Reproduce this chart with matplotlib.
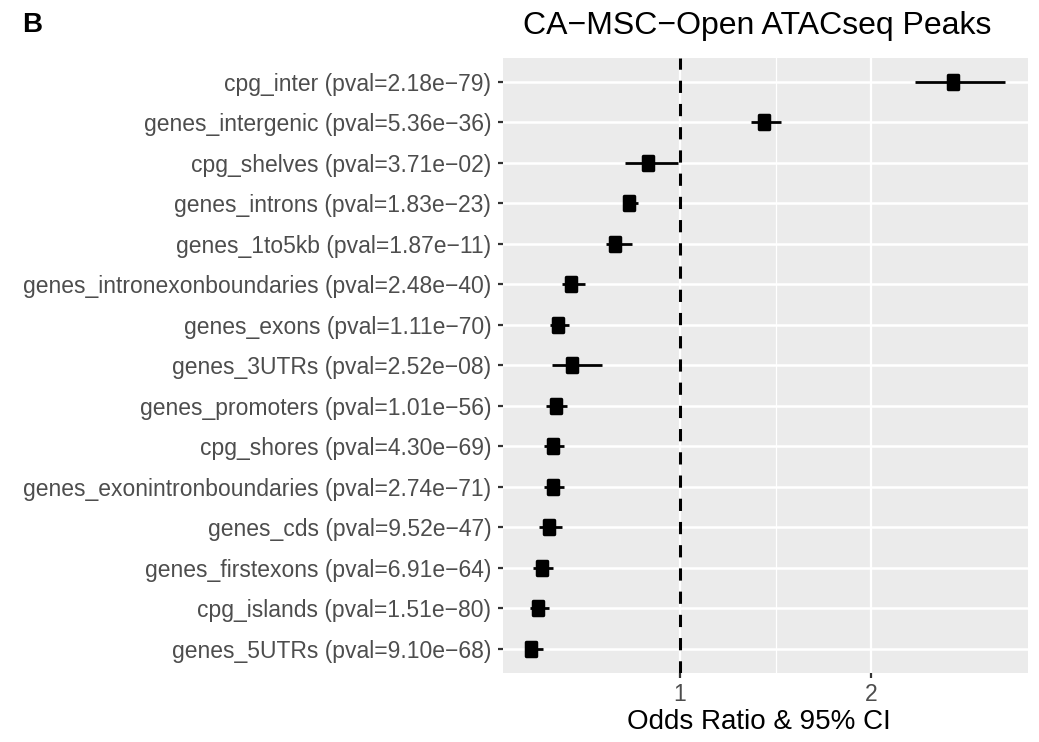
import matplotlib
matplotlib.use("Agg")
import matplotlib.pyplot as plt
from matplotlib.path import Path
import numpy as np

plt.rcParams['font.family'] = ['Liberation Sans', 'DejaVu Sans']

# Annotation categories, top to bottom
features = ["cpg_inter", "genes_intergenic", "cpg_shelves", "genes_introns",
            "genes_1to5kb", "genes_intronexonboundaries", "genes_exons",
            "genes_3UTRs", "genes_promoters", "cpg_shores",
            "genes_exonintronboundaries", "genes_cds", "genes_firstexons",
            "cpg_islands", "genes_5UTRs"]
pvals = ["2.18e\u221279", "5.36e\u221236", "3.71e\u221202", "1.83e\u221223",
         "1.87e\u221211", "2.48e\u221240", "1.11e\u221270", "2.52e\u221208",
         "1.01e\u221256", "4.30e\u221269", "2.74e\u221271", "9.52e\u221247",
         "6.91e\u221264", "1.51e\u221280", "9.10e\u221268"]
odds_ratio = [2.43, 1.44, 0.83, 0.735, 0.66, 0.43, 0.36, 0.435, 0.35,
              0.337, 0.335, 0.315, 0.275, 0.257, 0.22]
ci_low = [2.23, 1.37, 0.71, 0.70, 0.61, 0.38, 0.32, 0.33, 0.30,
          0.29, 0.29, 0.26, 0.23, 0.215, 0.20]
ci_high = [2.70, 1.53, 0.99, 0.78, 0.75, 0.50, 0.42, 0.59, 0.41,
           0.395, 0.39, 0.38, 0.335, 0.313, 0.28]
x_ticks = [1, 2]

labels = [f"{f} (pval={p})" for f, p in zip(features, pvals)]
n = len(features)
ypos = np.arange(n)[::-1] + 1

fig = plt.figure(figsize=(10.39, 7.42), dpi=100)
ax = fig.add_axes([0.4841, 0.0930, 0.5053, 0.8292])
ax.set_facecolor("#EBEBEB")
for s in ax.spines.values():
    s.set_visible(False)

# grid
for xv in x_ticks:
    ax.axvline(xv, color="white", lw=1.6, zorder=0)
ax.axvline(1.5, color="white", lw=0.9, zorder=0)
for yv in ypos:
    ax.axhline(yv, color="white", lw=1.8, zorder=0)

# reference line at OR = 1
ax.axvline(1, color="black", lw=2.2, ls=(0, (4, 3.6)), zorder=1)

# confidence intervals
ax.hlines(ypos, ci_low, ci_high, color="black", lw=2.0, zorder=2)

# point estimates (rounded squares)
sq = Path([(-0.36, -0.5), (0.36, -0.5), (0.36, 0.5), (-0.36, 0.5), (-0.36, -0.5)],
          [Path.MOVETO, Path.LINETO, Path.LINETO, Path.LINETO, Path.CLOSEPOLY])
pts, = ax.plot(odds_ratio, ypos, ls="none", marker=sq, markersize=10.5,
               color="black", markeredgecolor="black", markeredgewidth=2.5,
               zorder=3)
pts.set_solid_joinstyle("round")

ax.set_xlim(0.073, 2.822)
ax.set_ylim(0.4, n + 0.6)
ax.set_xticks(x_ticks)
ax.set_xticklabels([str(t) for t in x_ticks])
ax.set_yticks(ypos)
ax.set_yticklabels(labels)
ax.tick_params(axis="both", colors="#333333", length=3.5, width=1.6,
               labelcolor="#4D4D4D", labelsize=16.5)
ax.tick_params(axis="y", pad=5)
ax.tick_params(axis="x", pad=4)

ax.set_xlabel("Odds Ratio & 95% CI", fontsize=20, color="black")
ax.xaxis.set_label_coords(0.488, -0.0797)
ax.xaxis.label.set_va("center")

fig.text(0.7286, 0.965, "CA\u2212MSC\u2212Open ATACseq Peaks", fontsize=23,
         color="black", ha="center", va="center")
fig.text(0.021, 0.966, "B", fontsize=20, fontweight="bold", va="center", ha="left")

fig.savefig("out.png", dpi=100)
